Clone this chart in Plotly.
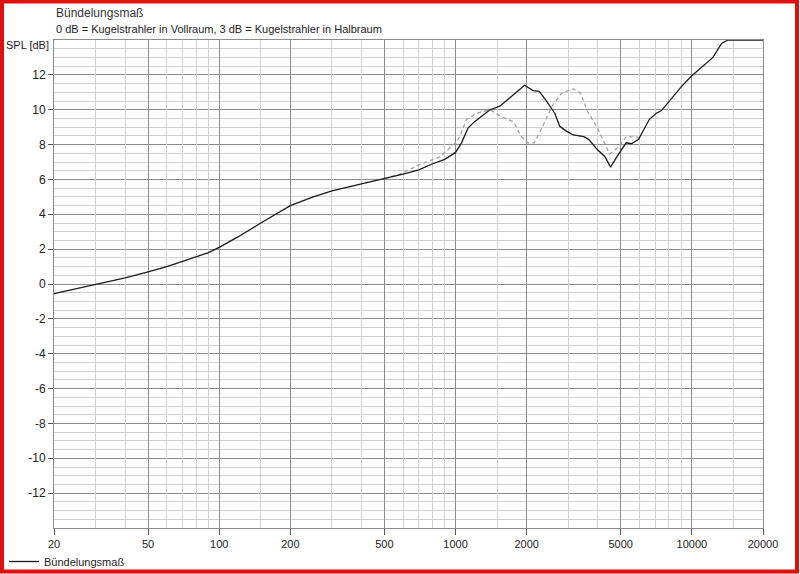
import plotly.graph_objects as go
import numpy as np

# ---- data ----
freq_solid = [20, 25, 30, 40, 50, 60, 70, 80, 90, 100, 120, 150, 200, 250, 300, 400, 500,
              600, 700, 800, 900, 1000, 1060, 1130, 1200, 1400, 1540, 1760, 1960, 2130,
              2260, 2410, 2630, 2760, 2920, 3150, 3490, 3660, 3990, 4290, 4530, 4790,
              5270, 5550, 5950, 6610, 7070, 7440, 7810, 8990, 10000, 12280, 13360,
              14220, 16000, 20000]
spl_solid = [-0.55, -0.25, 0.0, 0.35, 0.7, 1.0, 1.3, 1.55, 1.8, 2.1, 2.7, 3.5, 4.5, 5.0,
             5.35, 5.75, 6.05, 6.3, 6.55, 6.9, 7.15, 7.55, 8.1, 8.95, 9.3, 10.0, 10.2,
             10.85, 11.4, 11.1, 11.05, 10.55, 9.8, 9.05, 8.8, 8.55, 8.45, 8.3, 7.7, 7.3,
             6.7, 7.25, 8.1, 8.05, 8.3, 9.45, 9.8, 9.95, 10.3, 11.3, 11.95, 13.0, 13.8,
             14.0, 14.0, 14.0]

freq_dash = [500, 580, 705, 860, 1000, 1040, 1115, 1230, 1400, 1540, 1760, 1900, 2020,
             2150, 2340, 2560, 2810, 3150, 3380, 3620, 3990, 4490, 4930, 5270, 5850, 6000]
spl_dash = [6.05, 6.3, 6.85, 7.3, 8.1, 8.45, 9.45, 9.8, 10.0, 9.65, 9.3, 8.45, 8.1, 8.1,
            9.05, 10.2, 10.95, 11.2, 10.95, 9.9, 8.95, 7.45, 7.9, 8.45, 8.45, 8.3]

x_major = [20, 50, 100, 200, 500, 1000, 2000, 5000, 10000, 20000]
x_labels = ["20", "50", "100", "200", "500", "1000", "2000", "5000", "10000", "20000"]
x_minor = [30, 40, 60, 70, 80, 90, 150, 300, 400, 600, 700, 800, 900, 1500,
           3000, 4000, 6000, 7000, 8000, 9000, 15000]
y_ticks = list(range(-12, 13, 2))
y_labels = [str(v) for v in y_ticks]

title_text = "Bündelungsmaß"
subtitle_text = "0 dB = Kugelstrahler in Vollraum, 3 dB = Kugelstrahler in Halbraum"
y_title = "SPL [dB]"
series_name = "Bündelungsmaß"

# ---- layout geometry ----
W, H = 800, 574
L, R, T, B = 54, 37, 40, 46
pw, ph = W - L - R, H - T - B

def px_x(p):
    return (p - L) / pw

def px_y(p):
    return 1 - (p - T) / ph

FONT = "Liberation Sans, Arial, sans-serif"
xrange_ = [np.log10(20), np.log10(20000)]

fig = go.Figure()
fig.add_trace(go.Scatter(x=freq_dash, y=spl_dash, mode="lines",
                         line=dict(color="#9a9a9a", width=1.2, dash="4px,3px"),
                         showlegend=False, hoverinfo="skip"))
fig.add_trace(go.Scatter(x=freq_solid, y=spl_solid, mode="lines", name=series_name,
                         line=dict(color="#1a1a1a", width=1.3)))
# invisible trace bound to the overlay axis that carries the minor vertical gridlines
fig.add_trace(go.Scatter(x=[20, 20000], y=[None, None], xaxis="x2", mode="lines",
                         showlegend=False, hoverinfo="skip"))

fig.update_layout(
    width=W, height=H,
    margin=dict(l=L, r=R, t=T, b=B, pad=0, autoexpand=False),
    paper_bgcolor="white", plot_bgcolor="white",
    font=dict(family=FONT, size=11, color="#222222"),
    showlegend=True,
    legend=dict(xref="container", yref="container", x=4 / W, y=1 - 547 / H,
                xanchor="left", yanchor="top",
                bgcolor="rgba(0,0,0,0)", itemwidth=30,
                font=dict(size=11, family=FONT, color="#222222")),
    xaxis=dict(type="log", range=xrange_,
               tickvals=x_major, ticktext=x_labels,
               showgrid=True, gridcolor="#8c8c8c", gridwidth=1,
               ticks="outside", ticklen=6, tickcolor="#555555",
               showline=True, linecolor="#8c8c8c", mirror=True,
               zeroline=False,
               tickfont=dict(size=11, family=FONT, color="#222222")),
    xaxis2=dict(type="log", range=xrange_, overlaying="x", side="bottom",
                tickvals=x_minor, showticklabels=False, ticks="",
                showgrid=True, gridcolor="#d0d0d0", gridwidth=1,
                showline=False, zeroline=False),
    yaxis=dict(range=[-14, 14], tickvals=y_ticks, ticktext=y_labels,
               showgrid=True, gridcolor="#8c8c8c", gridwidth=1,
               ticks="outside", ticklen=5, tickcolor="#555555",
               showline=True, linecolor="#8c8c8c", mirror=True,
               zeroline=False,
               minor=dict(dtick=0.5, tick0=0, showgrid=True, gridcolor="#d0d0d0",
                          gridwidth=1, ticks=""),
               tickfont=dict(size=12, family=FONT, color="#222222")),
    annotations=[
        dict(text=title_text, xref="paper", yref="paper", x=px_x(54), y=px_y(13),
             xanchor="left", yanchor="middle", showarrow=False,
             font=dict(size=12, family=FONT, color="#333333")),
        dict(text=subtitle_text, xref="paper", yref="paper", x=px_x(54), y=px_y(29),
             xanchor="left", yanchor="middle", showarrow=False,
             font=dict(size=11, family=FONT, color="#222222")),
        dict(text=y_title, xref="paper", yref="paper", x=px_x(51), y=px_y(45),
             xanchor="right", yanchor="middle", showarrow=False,
             font=dict(size=11, family=FONT, color="#222222")),
    ],
    shapes=[
        dict(type="rect", xref="paper", yref="paper",
             x0=px_x(2), x1=px_x(797), y0=px_y(571.5), y1=px_y(1.5),
             line=dict(color="#e01010", width=4), fillcolor="rgba(0,0,0,0)",
             layer="above"),
    ],
)

fig.write_html("out.html", config={"displayModeBar": False},
               post_script="document.body.style.margin='0';document.body.style.overflow='hidden';")
